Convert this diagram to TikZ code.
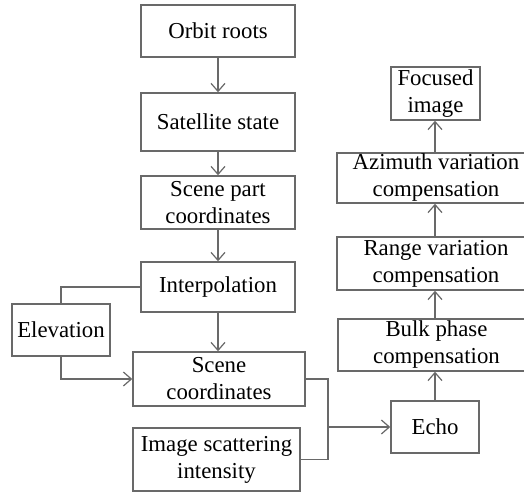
\documentclass[tikz,border=0pt]{standalone}
\usepackage{fontspec}
\setmainfont{Liberation Serif}
\usetikzlibrary{arrows.meta}
\definecolor{linegray}{RGB}{105,105,105}
\tikzset{
  box/.style={draw=linegray, line width=0.75pt, inner sep=0pt, align=center,
    font=\fontsize{11.4}{13.5}\selectfont, text=black},
  conn/.style={draw=linegray, line width=0.75pt},
  arr/.style={conn, -{Straight Barb[length=4pt,width=7pt,line width=0.6pt]}}
}
\begin{document}
\begin{tikzpicture}[x=0.5pt,y=-0.5pt]
\useasboundingbox (0,0) rectangle (524,492);
\fill[white] (0,0) rectangle (524,492);
\clip (0,0) rectangle (524,492);
\node[box, minimum width=77pt, minimum height=26pt] (orbit) at (218,31) {Orbit roots};
\node[box, minimum width=77pt, minimum height=29pt] (sat) at (218,122) {Satellite state};
\node[box, minimum width=77pt, minimum height=26.5pt] (part) at (218,202.5) {Scene part\\coordinates};
\node[box, minimum width=77pt, minimum height=25pt] (interp) at (218,287) {Interpolation};
\node[box, minimum width=49pt, minimum height=26pt] (elev) at (61,330) {Elevation};
\node[box, minimum width=86pt, minimum height=27pt] (scene) at (219,379) {Scene\\coordinates};
\node[box, minimum width=83.5pt, minimum height=31.5pt] (image) at (216.5,459.5) {Image scattering\\intensity};
\node[box, minimum width=44pt, minimum height=26pt] (echo) at (435,427) {Echo};
\node[box, minimum width=98.5pt, minimum height=26pt] (bulk) at (436.5,345) {Bulk phase\\compensation};
\node[box, minimum width=99pt, minimum height=26.5pt] (range) at (436,263.5) {Range variation\\compensation};
\node[box, minimum width=99pt, minimum height=25pt] (azim) at (436,178) {Azimuth variation\\compensation};
\node[box, minimum width=44.5pt, minimum height=26.5pt] (focus) at (435.5,93.5) {Focused\\image};
\coordinate (junc) at (328,427);
\draw[arr] (orbit) -- (sat);
\draw[arr] (sat) -- (part);
\draw[arr] (part) -- (interp);
\draw[arr] (interp) -- (interp |- scene.north);
\draw[conn] (interp.west) -| (elev.north);
\draw[arr] (elev.south) |- (scene.west);
\draw[conn] (scene.east) -| (junc) |- (image.east);
\draw[arr] (junc) -- (echo.west);
\draw[arr] (echo) -- (echo |- bulk.south);
\draw[arr] (bulk.north -| echo) -- (echo |- range.south);
\draw[arr] (range.north -| echo) -- (echo |- azim.south);
\draw[arr] (azim.north -| echo) -- (echo |- focus.south);
\end{tikzpicture}
\end{document}
